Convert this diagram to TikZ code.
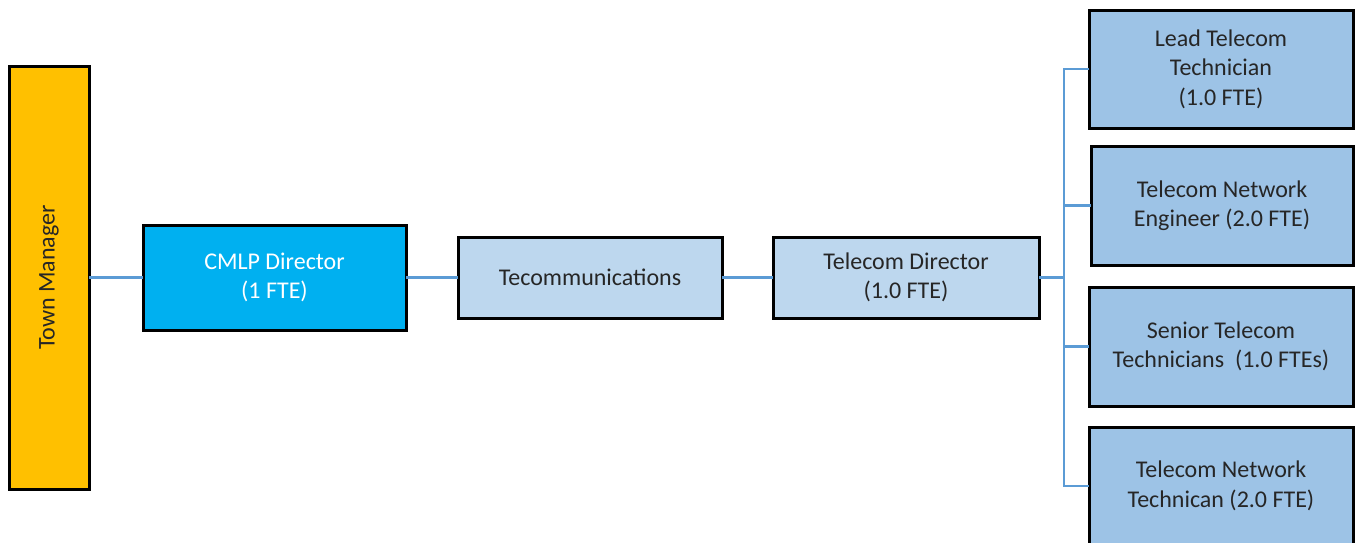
\documentclass[tikz,border=0pt]{standalone}
\usepackage{fontspec}
\setmainfont{Carlito}
\definecolor{tmgold}{HTML}{FFC000}
\definecolor{cmlpblue}{HTML}{00B0F0}
\definecolor{midblue}{HTML}{BDD7EE}
\definecolor{rightblue}{HTML}{9DC3E6}
\definecolor{linkblue}{HTML}{5B9BD5}
\definecolor{txtgray}{HTML}{262626}
\tikzset{
  orgbox/.style={draw=black, line width=3pt, inner sep=0pt, outer sep=0pt, align=center,
    text=txtgray, font=\fontsize{24}{29.5}\selectfont},
  midbox/.style={orgbox, fill=midblue},
  rightbox/.style={orgbox, fill=rightblue, minimum width=264pt},
  link/.style={draw=linkblue, line width=2.8pt}
}
\begin{document}
\begin{tikzpicture}[x=1pt,y=-1pt]
\useasboundingbox (0,0) rectangle (1355,542);
\clip (0,0) rectangle (1355,542);
\fill[white] (0,0) rectangle (1355,542);
% nodes
\node[orgbox, fill=tmgold, minimum width=80pt, minimum height=423pt] (tm) at (49,277.5) {};
\node[rotate=90, text=txtgray, font=\fontsize{24}{29}\selectfont] (tmlabel) at (tm.center) {Town Manager};
\node[orgbox, fill=cmlpblue, text=white, minimum width=263pt, minimum height=105pt] (cmlp) at (274.5,277.5) {CMLP Director\\(1 FTE)};
\node[midbox, minimum width=264pt, minimum height=81pt] (tecom) at (590,277.5) {Tecommunications};
\node[midbox, minimum width=266pt, minimum height=81pt] (td) at (906,277.5) {Telecom Director\\(1.0 FTE)};
\node[rightbox, minimum height=118pt] (r1) at (1221,69) {Lead Telecom\\Technician\\(1.0 FTE)};
\node[rightbox, minimum width=262pt, minimum height=119pt] (r2) at (1222,205.5) {Telecom Network\\Engineer (2.0 FTE)};
\node[rightbox, minimum height=119pt] (r3) at (1221,346.5) {Senior Telecom\\Technicians\ \ (1.0 FTEs)};
\node[rightbox, minimum height=118pt] (r4) at (1221,486) {Telecom Network\\Technican (2.0 FTE)};
\coordinate (bus) at (1064,277.5);
% connectors
\draw[link] (tm.east) -- (cmlp.west);
\draw[link] (cmlp.east) -- (tecom.west);
\draw[link] (tecom.east) -- (td.west);
\draw[link] (td.east) -- (bus);
\draw[link] (r1.west) -| (bus);
\draw[link] (r2.west) -| (bus);
\draw[link] (r3.west) -| (bus);
\draw[link] (r4.west) -| (bus);
\end{tikzpicture}
\end{document}
